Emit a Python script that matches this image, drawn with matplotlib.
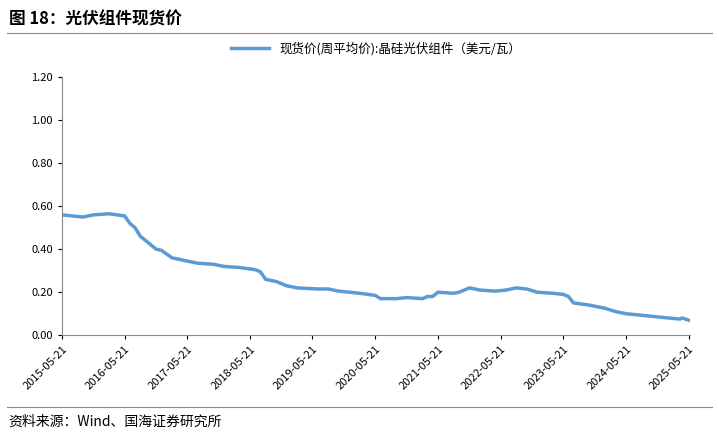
import matplotlib
matplotlib.use("Agg")
import matplotlib.pyplot as plt
import matplotlib.dates as mdates
import pandas as pd

plt.rcParams['font.family'] = ['Noto Sans CJK SC', 'DejaVu Sans']

dates = ["2015-05-21","2015-09-21","2015-11-21","2016-02-21","2016-05-21","2016-06-21","2016-07-21",
         "2016-08-21","2016-09-21","2016-11-21","2016-12-21","2017-02-21","2017-05-21","2017-07-21",
         "2017-10-21","2017-12-21","2018-03-21","2018-06-21","2018-07-21","2018-08-21","2018-10-21",
         "2018-12-21","2019-02-21","2019-06-21","2019-08-21","2019-10-21","2020-02-21","2020-05-21",
         "2020-06-21","2020-09-21","2020-11-21","2021-02-21","2021-03-21","2021-04-21","2021-05-21",
         "2021-08-21","2021-09-21","2021-11-21","2022-01-21","2022-04-21","2022-06-21","2022-08-21",
         "2022-10-21","2022-12-21","2023-03-21","2023-05-21","2023-06-21","2023-07-21","2023-10-21",
         "2024-01-21","2024-03-21","2024-05-21","2024-09-21","2024-11-21","2025-02-21","2025-04-01",
         "2025-04-15","2025-05-21"]
prices = [0.56,0.55,0.56,0.565,0.555,0.52,0.50,0.46,0.44,0.40,0.395,0.36,0.345,0.335,
          0.33,0.32,0.315,0.305,0.295,0.26,0.25,0.23,0.22,0.215,0.215,0.205,0.195,0.185,
          0.17,0.17,0.175,0.17,0.18,0.18,0.20,0.195,0.20,0.22,0.21,0.205,0.21,0.22,
          0.215,0.20,0.195,0.19,0.18,0.15,0.14,0.125,0.11,0.10,0.09,0.085,0.078,0.075,
          0.08,0.07]
series_label = "现货价(周平均价):晶硅光伏组件（美元/瓦）"
tick_dates = [f"{y}-05-21" for y in range(2015, 2026)]

fig = plt.figure(figsize=(7.19, 4.37), dpi=100)
ax = fig.add_axes([0.086, 0.233, 0.874, 0.59])
ax.plot(pd.to_datetime(dates), prices, color="#5B9BD5", lw=2.5, label=series_label)
ax.set_ylim(0, 1.2)
ax.set_yticks([0, 0.2, 0.4, 0.6, 0.8, 1.0, 1.2])
ax.yaxis.set_major_formatter(matplotlib.ticker.FormatStrFormatter('%.2f'))
ax.set_xlim(pd.Timestamp("2015-05-21"), pd.Timestamp("2025-05-31"))
ax.set_xticks(pd.to_datetime(tick_dates))
ax.set_xticklabels(tick_dates, rotation=45, ha="right", rotation_mode="anchor")
ax.tick_params(labelsize=8, direction="out", length=3)
for s in ["top", "right"]:
    ax.spines[s].set_visible(False)
ax.spines["left"].set_color("#888888")
ax.spines["bottom"].set_color("#888888")
ax.legend(loc="lower center", bbox_to_anchor=(0.5, 1.04), frameon=False, fontsize=9, handlelength=3)

fig.text(0.012, 0.955, "图 18：光伏组件现货价", fontsize=12, fontweight="bold", va="center")
fig.add_artist(plt.Line2D([0.01, 0.99], [0.925, 0.925], color="#888888", lw=0.8))
fig.add_artist(plt.Line2D([0.01, 0.99], [0.068, 0.068], color="#888888", lw=0.8))
fig.text(0.012, 0.035, "资料来源：Wind、国海证券研究所", fontsize=10, va="center")
fig.savefig("out.png", dpi=100)
